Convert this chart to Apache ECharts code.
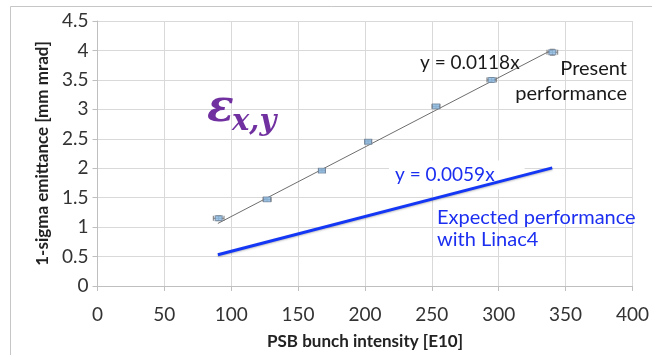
<!DOCTYPE html>
<html>
<head>
<meta charset="utf-8">
<script src="https://cdn.jsdelivr.net/npm/echarts@6/dist/echarts.min.js"></script>
<style>
  html, body { margin: 0; padding: 0; background: #fff; }
  #chart { width: 652px; height: 355px; }
</style>
</head>
<body>
<div id="chart"></div>
<script>
// Measured emittance vs. PSB bunch intensity
const intensity    = [90.6, 126.8, 167.8, 202.4, 253.1, 294.7, 340.1];
const emittance    = [1.15, 1.47, 1.96, 2.45, 3.05, 3.50, 3.97];
const intensityErr = [4, 3, 2.5, 2.5, 3, 3.5, 4];
const emittanceErr = [0.04, 0.03, 0.025, 0.025, 0.03, 0.04, 0.05];

// Linear fits through the origin
const presentSlope  = 0.0118;
const expectedSlope = 0.0059;
const fitRange      = [90, 340];

// Axis ticks
const xTickValues = [0, 50, 100, 150, 200, 250, 300, 350, 400];
const yTickValues = [0, 0.5, 1, 1.5, 2, 2.5, 3, 3.5, 4, 4.5];

const FONT = 'Lato';
const points = intensity.map((x, i) => [x, emittance[i], intensityErr[i], emittanceErr[i]]);
const presentFit  = fitRange.map(x => [x, presentSlope * x]);
const expectedFit = fitRange.map(x => [x, expectedSlope * x]);

const chart = echarts.init(document.getElementById('chart'), null, { renderer: 'canvas' });

chart.setOption({
  animation: false,
  backgroundColor: '#ffffff',
  grid: { left: 97.5, right: 11, top: 21, bottom: 66.5, containLabel: false },
  xAxis: {
    type: 'value',
    min: xTickValues[0],
    max: xTickValues[xTickValues.length - 1],
    interval: xTickValues[1] - xTickValues[0],
    name: 'PSB bunch intensity [E10]',
    nameLocation: 'middle',
    nameGap: 47,
    nameTextStyle: { fontFamily: FONT, fontWeight: 'bold', fontSize: 17, color: '#222' },
    axisLine: { lineStyle: { color: '#bfbfbf', width: 1 } },
    axisTick: { show: true, length: 5, lineStyle: { color: '#bfbfbf' } },
    axisLabel: { fontFamily: FONT, fontSize: 19, color: '#333', margin: 19 },
    splitLine: { show: true, lineStyle: { color: '#d9d9d9', width: 1 } }
  },
  yAxis: {
    type: 'value',
    min: yTickValues[0],
    max: yTickValues[yTickValues.length - 1],
    interval: yTickValues[1] - yTickValues[0],
    name: '1-sigma emittance [mm mrad]',
    nameLocation: 'middle',
    nameGap: 46,
    nameTextStyle: { fontFamily: FONT, fontWeight: 'bold', fontSize: 17, color: '#222' },
    axisLine: { show: true, lineStyle: { color: '#bfbfbf', width: 1 } },
    axisTick: { show: true, length: 5, lineStyle: { color: '#bfbfbf' } },
    axisLabel: { fontFamily: FONT, fontSize: 19, color: '#333', margin: 9 },
    splitLine: { show: true, lineStyle: { color: '#d9d9d9', width: 1 } }
  },
  series: [
    {
      name: 'Expected fit',
      type: 'line',
      data: expectedFit,
      symbol: 'none',
      lineStyle: { color: '#1437f5', width: 3, shadowColor: 'rgba(0,0,0,0.25)', shadowBlur: 2, shadowOffsetY: 1 },
      z: 3
    },
    {
      name: 'Present fit',
      type: 'line',
      data: presentFit,
      symbol: 'none',
      lineStyle: { color: '#6e6e6e', width: 1 },
      z: 3
    },
    {
      name: 'Error bars',
      type: 'custom',
      data: points,
      encode: { x: 0, y: 1 },
      renderItem: function (params, api) {
        const x = api.value(0), y = api.value(1), ex = api.value(2), ey = api.value(3);
        const l = api.coord([x - ex, y]), r = api.coord([x + ex, y]);
        const t = api.coord([x, y + ey]), b = api.coord([x, y - ey]);
        const cap = 2.5;
        const style = { stroke: '#7a7a7a', lineWidth: 1 };
        const seg = (x1, y1, x2, y2) => ({ type: 'line', shape: { x1, y1, x2, y2 }, style });
        return {
          type: 'group',
          children: [
            seg(l[0], l[1], r[0], r[1]),
            seg(l[0], l[1] - cap, l[0], l[1] + cap),
            seg(r[0], r[1] - cap, r[0], r[1] + cap),
            seg(t[0], t[1], b[0], b[1]),
            seg(t[0] - cap, t[1], t[0] + cap, t[1]),
            seg(b[0] - cap, b[1], b[0] + cap, b[1])
          ]
        };
      },
      z: 4
    },
    {
      name: 'Measured',
      type: 'scatter',
      data: points.map(p => [p[0], p[1]]),
      symbol: 'rect',
      symbolSize: [7, 5],
      itemStyle: { color: '#8cbbe6', borderColor: '#6f8299', borderWidth: 1 },
      z: 5
    }
  ],
  graphic: [
    {
      type: 'rect', silent: true, z: -10,
      shape: { x: 10.5, y: 6.5, width: 700, height: 400 },
      style: { fill: 'none', stroke: '#c6c6c6', lineWidth: 1 }
    },
    {
      type: 'text', z: 10,
      style: { x: 420, y: 63, text: 'y = 0.0118x', font: '19px ' + FONT, fill: '#1a1a1a', verticalAlign: 'middle' }
    },
    {
      type: 'text', z: 10,
      style: { x: 627, y: 69, text: 'Present', font: '20px ' + FONT, fill: '#1a1a1a', align: 'right', verticalAlign: 'middle' }
    },
    {
      type: 'text', z: 10,
      style: { x: 627, y: 94, text: 'performance', font: '20px ' + FONT, fill: '#1a1a1a', align: 'right', verticalAlign: 'middle' }
    },
    {
      type: 'text', z: 2,
      style: { x: 389, y: 175, text: 'y = 0.0059x', font: '19px ' + FONT, fill: '#1c2ff0', verticalAlign: 'middle',
               backgroundColor: '#ffffff', padding: [4, 30, 6, 6] }
    },
    {
      type: 'text', z: 10,
      style: { x: 437, y: 218, text: 'Expected performance', font: '20px ' + FONT, fill: '#1c2ff0', verticalAlign: 'middle' }
    },
    {
      type: 'text', z: 10,
      style: { x: 437, y: 240, text: 'with Linac4', font: '20px ' + FONT, fill: '#1c2ff0', verticalAlign: 'middle' }
    },
    {
      type: 'text', left: 207, top: 88, z: 10,
      style: { text: 'ε', font: 'bold italic 44px "DejaVu Serif"', fill: '#7030a0' }
    },
    {
      type: 'text', left: 232, top: 108, z: 10,
      style: { text: 'x,y', font: 'bold italic 29px "DejaVu Serif"', fill: '#7030a0' }
    }
  ]
});
</script>
</body>
</html>
